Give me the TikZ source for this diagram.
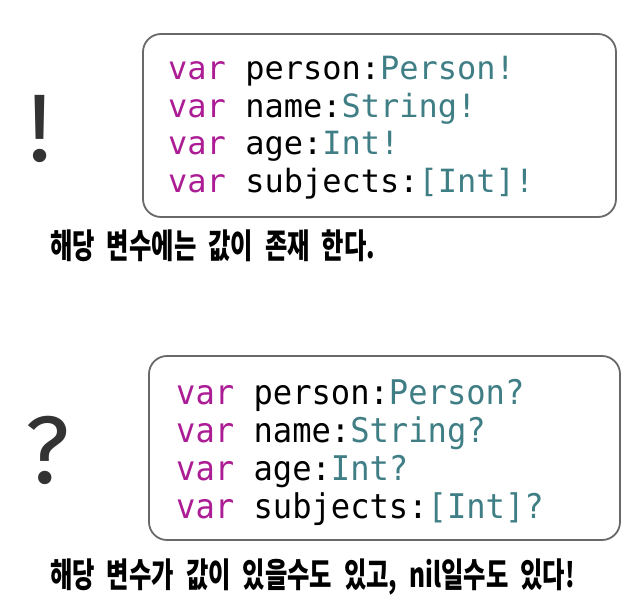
\documentclass[tikz,border=0pt]{standalone}
\usepackage{fontspec}
\usetikzlibrary{positioning}
\newfontfamily\codefont{DejaVu Sans Mono}
\newfontfamily\codefonttall[FakeStretch=0.945]{DejaVu Sans Mono}
\newfontfamily\markfont{Fira Sans}
\newfontfamily\hangulfont[FakeStretch=0.715]{Noto Sans CJK KR}
\definecolor{keyword}{RGB}{172,28,148}
\definecolor{typename}{RGB}{63,126,133}
\definecolor{boxline}{RGB}{105,105,105}
\definecolor{markgray}{RGB}{51,51,51}
\tikzset{
  code box/.style={draw=boxline, line width=1.8pt, rounded corners=18pt},
  code line/.style={anchor=base west, inner sep=0pt,
    font=\codefont\fontsize{32}{32}\selectfont},
  code line tall/.style={code line,
    font=\codefonttall\fontsize{34}{34}\selectfont},
  mark sign/.style={anchor=base, inner sep=0pt, text=markgray,
    font=\markfont\fontsize{96}{96}\selectfont},
  note line/.style={anchor=base west, inner sep=0pt,
    font=\hangulfont\bfseries\fontsize{34}{34}\selectfont},
}
\newcommand{\kw}[1]{\textcolor{keyword}{#1}}
\newcommand{\ty}[1]{\textcolor{typename}{#1}}
\newcommand{\widespace}{\spaceskip=12pt\relax}

\begin{document}
\begin{tikzpicture}[x=1pt,y=-1pt]
            \useasboundingbox (0,0) rectangle (643,604);

            % Boxes
            \coordinate (b1-nw) at (143,34);
            \coordinate (b1-se) at (616,217);
            \coordinate (b2-nw) at (149,356);
            \coordinate (b2-se) at (620,540);
            \draw[code box] (b1-nw) rectangle (b1-se);
            \draw[code box] (b2-nw) rectangle (b2-se);

            % Unwrapped
            \node[code line] (u1) at (168,80) {\kw{var} person:\ty{Person!}};
            \node[code line] (u2) at ([yshift=-37.4pt] u1.base west) {\kw{var} name:\ty{String!}};
            \node[code line] (u3) at ([yshift=-37.4pt] u2.base west) {\kw{var} age:\ty{Int!}};
            \node[code line] (u4) at ([yshift=-37.4pt] u3.base west) {\kw{var} subjects:\ty{[Int]!}};

            % Optional
            \node[code line tall] (o1) at (176,404) {\kw{var} person:\ty{Person?}};
            \node[code line tall] (o2) at ([yshift=-38pt] o1.base west) {\kw{var} name:\ty{String?}};
            \node[code line tall] (o3) at ([yshift=-38pt] o2.base west) {\kw{var} age:\ty{Int?}};
            \node[code line tall] (o4) at ([yshift=-38pt] o3.base west) {\kw{var} subjects:\ty{[Int]?}};

            % Signs
            \node[mark sign] (bang) at (40,162) {!};
            \node[mark sign] (quest) at (48,483) {?};

            % Captions
            \node[note line] (cap1) at (50,259) {\widespace 해당 변수에는 값이 존재 한다.};
            \node[note line] (cap2) at (50,587) {\widespace 해당 변수가 값이 있을수도 있고, nil일수도 있다!};
        \end{tikzpicture}
\end{document}
